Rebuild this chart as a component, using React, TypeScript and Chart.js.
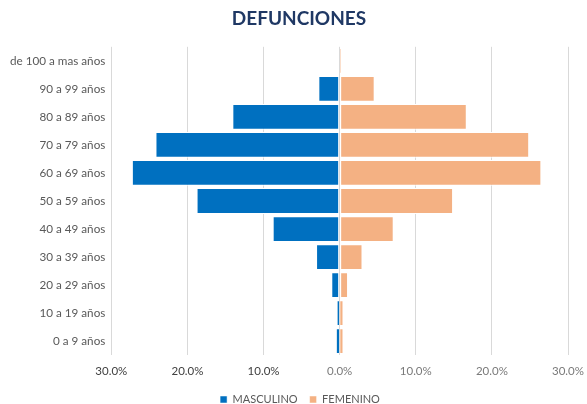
import React, { useEffect, useRef } from "react";
import { Chart, registerables } from "chart.js";

Chart.register(...registerables);

const categories = [
  "de 100 a mas años",
  "90 a 99 años",
  "80 a 89 años",
  "70 a 79 años",
  "60 a 69 años",
  "50 a 59 años",
  "40 a 49 años",
  "30 a 39 años",
  "20 a 29 años",
  "10 a 19 años",
  "0 a 9 años",
];

// percentages (male shown to the left)
const masculino = [0, 2.8, 14.1, 24.2, 27.3, 18.8, 8.8, 3.1, 1.1, 0.3, 0.4];
const femenino = [0.15, 4.6, 16.7, 24.9, 26.5, 14.9, 7.1, 3.0, 1.1, 0.4, 0.4];

const xTicks = [-30, -20, -10, 0, 10, 20, 30];

export default function App() {
  const ref = useRef<HTMLCanvasElement>(null);

  useEffect(() => {
    document.body.style.margin = "0";
    const font = "Lato, 'Open Sans', sans-serif";
    const bw = (ctx: any) => {
      const v = ctx.raw;
      return Math.abs(Number(v)) < 1
        ? { top: 1, bottom: 1, left: 0, right: 0 }
        : 1;
    };
    const shiftBoxes = {
      id: "shiftBoxes",
      afterLayout(chart: any) {
        const t = chart.titleBlock;
        if (t) t.left += 26;
        const l = chart.legend;
        if (l) l.left += 28;
      },
    };
    const chart = new Chart(ref.current!, {
      type: "bar",
      data: {
        labels: categories,
        datasets: [
          {
            label: "MASCULINO",
            data: masculino.map((v) => -v),
            backgroundColor: "#0070C0",
            borderColor: "#ffffff",
            borderWidth: bw,
            borderSkipped: false,
          },
          {
            label: "FEMENINO",
            data: femenino,
            backgroundColor: "#F4B183",
            borderColor: "#ffffff",
            borderWidth: bw,
            borderSkipped: false,
          },
        ],
      },
      plugins: [shiftBoxes],
      options: {
        indexAxis: "y",
        responsive: false,
        animation: false,
        maintainAspectRatio: false,
        layout: { padding: { left: 4, right: 19, top: 6, bottom: 0 } },
        datasets: {
          bar: { categoryPercentage: 1, barPercentage: 0.92 },
        },
        scales: {
          x: {
            stacked: true,
            min: -30,
            max: 30,
            afterBuildTicks: (axis: any) => {
              axis.ticks = xTicks.map((v) => ({ value: v }));
            },
            afterFit: (axis: any) => {
              axis.height -= 5;
              axis.paddingRight = 0;
              axis.paddingLeft = 0;
            },
            grid: { color: "#d9d9d9", drawTicks: false, lineWidth: 1 },
            border: { display: false },
            ticks: {
              padding: 9,
              font: { family: font, size: 11.5 },
              color: (ctx: any) =>
                ctx.tick && ctx.tick.value < 0 ? "#404040" : "#7a7a7a",
              callback: (v: any) => Math.abs(Number(v)).toFixed(1) + "%",
            },
          },
          y: {
            stacked: true,
            grid: { display: false, drawTicks: false },
            border: { display: false },
            ticks: {
              padding: 6,
              font: { family: font, size: 11.7 },
              color: "#595959",
            },
          },
        },
        plugins: {
          title: {
            display: true,
            text: "DEFUNCIONES",
            color: "#1F3864",
            font: { family: font, size: 19, weight: "bold" },
            padding: { top: 1, bottom: 17 },
          },
          legend: {
            position: "bottom",
            labels: {
              boxWidth: 7,
              boxHeight: 7,
              padding: 12,
              color: "#595959",
              font: { family: font, size: 11 },
            },
          },
          tooltip: { enabled: false },
        },
      },
    });
    return () => chart.destroy();
  }, []);

  return (
    <div
      style={{ width: 587, height: 404, overflow: "hidden", background: "#fff" }}
    >
      <canvas ref={ref} width={587} height={415} style={{ display: "block" }} />
    </div>
  );
}
